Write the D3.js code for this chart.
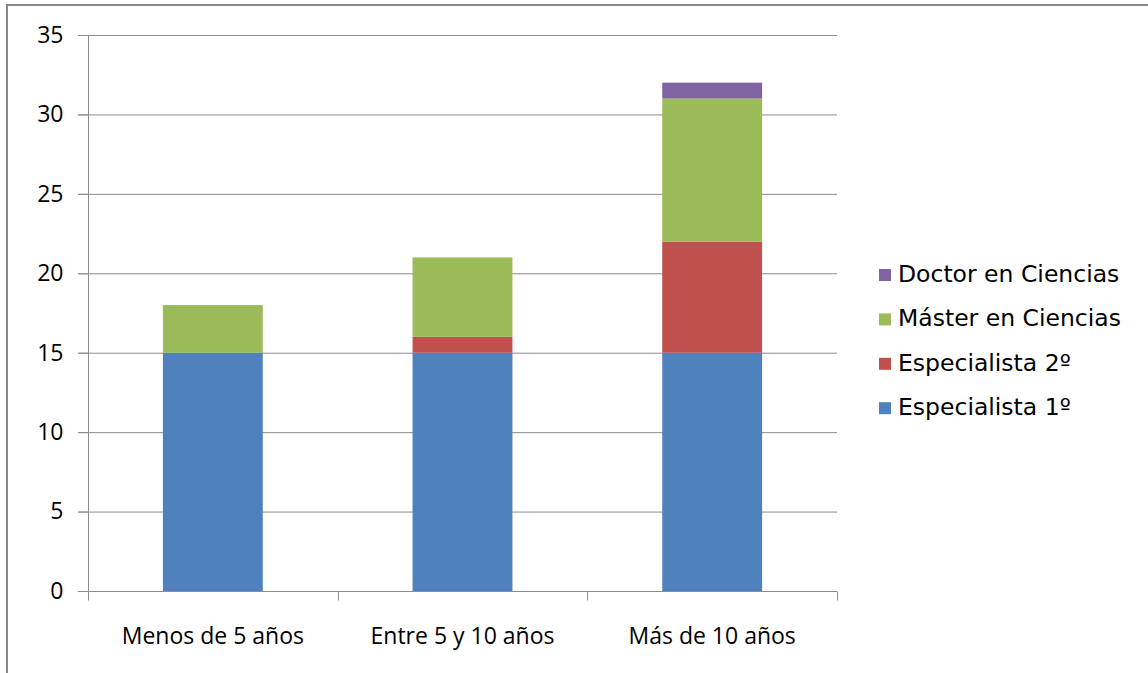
<!DOCTYPE html>
<html><head><meta charset="utf-8">
<script src="https://cdn.jsdelivr.net/npm/d3@7"></script>
<style>body{margin:0;background:#fff;} svg{display:block;}</style>
</head><body>
<svg id="c" width="1148" height="673"></svg>
<script>
const categories = ["Menos de 5 años", "Entre 5 y 10 años", "Más de 10 años"];
const seriesNames = ["Especialista 1º", "Especialista 2º", "Máster en Ciencias", "Doctor en Ciencias"];
const especialista1 = [15, 15, 15];
const especialista2 = [0, 1, 7];
const master = [3, 5, 9];
const doctor = [0, 0, 1];
const yTicks = [0, 5, 10, 15, 20, 25, 30, 35];
const colors = ["#4F81BD", "#C0504D", "#9BBB59", "#8064A2"];

const svg = d3.select("#c");
const m = {l: 88, r: 837, t: 35, b: 591};
const x = d3.scaleBand().domain(categories).range([m.l, m.r]).paddingInner(0.6).paddingOuter(0.3);
const y = d3.scaleLinear().domain([0, 35]).range([m.b, m.t]);

// frame
svg.append("path").attr("d", "M7,673 V5 H1148").attr("fill", "none").attr("stroke", "#8a8a8a").attr("stroke-width", 2);

// grid
svg.append("g").selectAll("line").data(yTicks.filter(d => d > 0)).join("line")
  .attr("x1", m.l - 10).attr("x2", m.r).attr("y1", d => y(d) + 0.5).attr("y2", d => y(d) + 0.5)
  .attr("stroke", "#8c8c8c").attr("stroke-width", 1);

// stacked data
const rows = categories.map((c, i) => ({cat: c, s0: especialista1[i], s1: especialista2[i], s2: master[i], s3: doctor[i]}));
const stack = d3.stack().keys(["s0", "s1", "s2", "s3"])(rows);
svg.append("g").selectAll("g").data(stack).join("g").attr("fill", (d, i) => colors[i])
  .selectAll("rect").data(d => d).join("rect")
  .attr("x", d => x(d.data.cat)).attr("width", x.bandwidth())
  .attr("y", d => y(d[1])).attr("height", d => y(d[0]) - y(d[1]));

// y axis
const ya = svg.append("g").attr("transform", `translate(${m.l + 0.5},0)`)
  .call(d3.axisLeft(y).tickValues(yTicks).tickSize(10).tickPadding(15).tickFormat(d3.format("d")));
ya.select(".domain").attr("stroke", "#8c8c8c").attr("d", `M0,${m.t} V${m.b}`);
ya.selectAll(".tick line").attr("stroke", "#8c8c8c");
ya.selectAll("text").attr("font-family", "Open Sans").attr("font-size", 23).attr("fill", "#000");

// x axis
const xa = svg.append("g").attr("transform", `translate(0,${m.b + 0.5})`);
xa.append("line").attr("x1", m.l - 10).attr("x2", m.r).attr("stroke", "#8c8c8c");
const bounds = [m.l, ...categories.map(c => x(c) + x.bandwidth() / 2 + x.step() / 2)];
xa.selectAll("line.t").data(bounds).join("line").attr("class", "t")
  .attr("x1", d => Math.round(d) + 0.5).attr("x2", d => Math.round(d) + 0.5).attr("y1", 0).attr("y2", 9)
  .attr("stroke", "#8c8c8c");
xa.selectAll("text").data(categories).join("text")
  .attr("x", d => x(d) + x.bandwidth() / 2).attr("y", 52)
  .attr("text-anchor", "middle").attr("font-family", "Open Sans").attr("font-size", 23).attr("fill", "#000")
  .text(d => d);

// legend
const legendOrder = [3, 2, 1, 0];
const lg = svg.append("g").selectAll("g").data(legendOrder).join("g")
  .attr("transform", (d, i) => `translate(879,${275 + i * 44.4})`);
lg.append("rect").attr("x", 0).attr("y", -6).attr("width", 12).attr("height", 12).attr("fill", d => colors[d]);
lg.append("text").attr("x", 19).attr("y", 7)
  .attr("font-family", "DejaVu Sans").attr("font-size", 23.5).attr("fill", "#000")
  .text(d => seriesNames[d]);
</script>
</body></html>
